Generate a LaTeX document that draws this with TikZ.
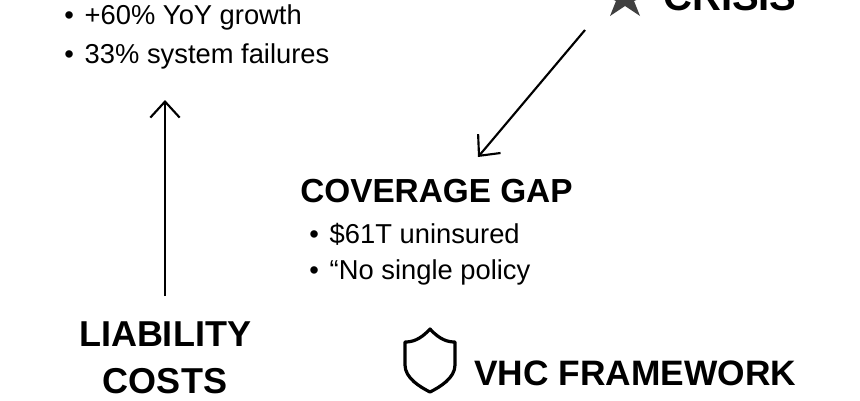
\documentclass[tikz,border=0pt]{standalone}
\usepackage{fontspec}
\setmainfont{Liberation Sans}
\usetikzlibrary{arrows.meta}
\newcommand{\bul}{\textbullet\hspace{0.4em}}
\begin{document}
\begin{tikzpicture}[x=0.75pt,y=-0.75pt,
  hd/.style={font=\fontsize{25}{27}\selectfont\bfseries,inner sep=0,anchor=base west},
  bl/.style={font=\fontsize{20.5}{22}\selectfont,inner sep=0,anchor=base west},
  arr/.style={line width=1.6pt,-{Straight Barb[length=12pt,width=22pt,line width=1.6pt]}}]
\useasboundingbox (0,0) rectangle (860,400);
\fill[white] (0,0) rectangle (860,400);
\node[bl] (b1) at (64,24) {\bul+60\% YoY growth};
\node[bl] (b2) at (64,63) {\bul33\% system failures};
\fill[black!75] (625,-45) -- (633,-15) -- (655,-8) -- (634,1) -- (640,16) -- (625,6) -- (610,16) -- (616,1) -- (595,-8) -- (617,-15) -- cycle;
\node[font=\fontsize{30}{32}\selectfont\bfseries,inner sep=0,anchor=base west] (cr) at (663,10) {CRISIS};
\coordinate (d1) at (585,30);
\coordinate (d2) at (478,157);
\draw[arr] (d1) -- (d2);
\coordinate (u1) at (165,296);
\coordinate (u2) at (165,100);
\draw[arr] (u1) -- (u2);
\node[hd] (cg) at (300,202) {COVERAGE GAP};
\node[bl] (c1) at (309,243) {\bul\$61T uninsured};
\node[bl] (c2) at (309,279) {\bul“No single policy};
\node[font=\fontsize{27}{35}\selectfont\bfseries,align=center,inner sep=0,anchor=base] (lc) at (165,393) {LIABILITY\\COSTS};
\draw[line width=2.4pt,line join=round] (430,329) .. controls (440,340) and (448,342) .. (455,342)
  -- (455,365) .. controls (455,378) and (440,387) .. (430,392)
  .. controls (420,387) and (405,378) .. (405,365) -- (405,342)
  .. controls (412,342) and (420,340) .. (430,329) -- cycle;
\node[font=\fontsize{26.5}{30}\selectfont\bfseries,inner sep=0,anchor=base west] (vhc) at (474,385) {VHC FRAMEWORK};
\end{tikzpicture}
\end{document}
